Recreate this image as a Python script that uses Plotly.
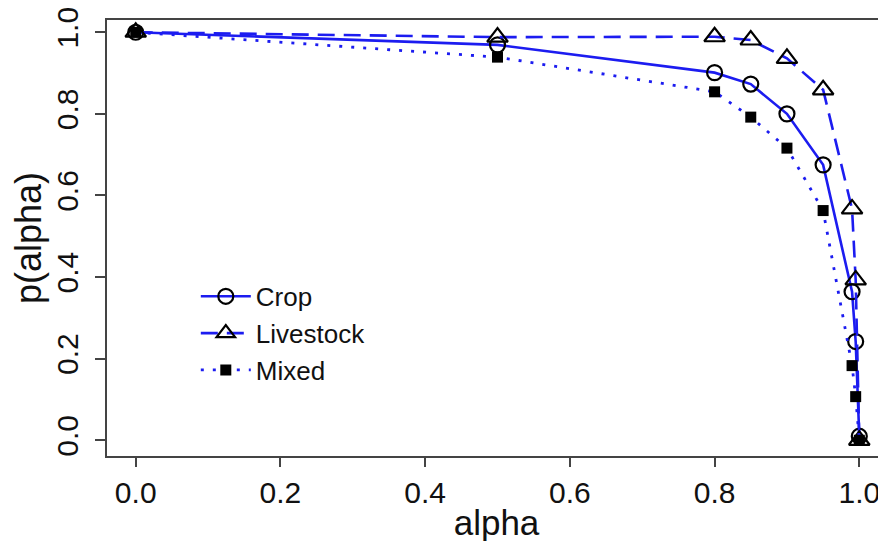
import plotly.graph_objects as go

alpha = [0.0, 0.5, 0.8, 0.85, 0.9, 0.95, 0.99, 0.995, 1.0]
crop = [1.0, 0.969, 0.901, 0.873, 0.800, 0.675, 0.364, 0.242, 0.01]
livestock = [1.0, 0.988, 0.989, 0.981, 0.936, 0.859, 0.567, 0.393, 0.0]
mixed = [1.0, 0.939, 0.854, 0.792, 0.716, 0.563, 0.183, 0.107, 0.0]
tick_vals = [0.0, 0.2, 0.4, 0.6, 0.8, 1.0]
tick_text = ["0.0", "0.2", "0.4", "0.6", "0.8", "1.0"]

BLUE = "#1c1cf0"
FONT = "Liberation Sans, Arial, sans-serif"

fig = go.Figure()
fig.add_trace(go.Scatter(x=alpha, y=crop, name="Crop", mode="lines+markers",
                         line=dict(color=BLUE, width=2.6, dash="solid"),
                         marker=dict(symbol="circle-open", size=15, color="black",
                                     line=dict(width=2.2, color="black"))))
fig.add_trace(go.Scatter(x=alpha, y=livestock, name="Livestock", mode="lines+markers",
                         line=dict(color=BLUE, width=2.6, dash="17px,9px"),
                         marker=dict(symbol="triangle-up-open", size=18, color="black",
                                     line=dict(width=2.2, color="black"))))
fig.add_trace(go.Scatter(x=alpha, y=mixed, name="Mixed", mode="lines+markers",
                         line=dict(color=BLUE, width=2.8, dash="3px,9px"),
                         marker=dict(symbol="square", size=11, color="black",
                                     line=dict(width=0))))

axis_common = dict(showgrid=False, zeroline=False, showline=True, linecolor="#444",
                   linewidth=1.5, ticks="outside", tickwidth=1.5, automargin=False,
                   tickcolor="#444", tickvals=tick_vals, ticktext=tick_text,
                   ticklabeloverflow="allow",
                   tickfont=dict(size=30, color="#111", family=FONT))

fig.update_layout(
    width=886, height=541,
    margin=dict(l=99, r=8, t=12, b=93),
    plot_bgcolor="white", paper_bgcolor="white",
    font=dict(family=FONT, color="#111"),
    xaxis=dict(range=[-0.0397, 1.0369], mirror=True, ticklen=9,
               title=dict(text="alpha", font=dict(size=35, family=FONT, color="#111"), standoff=3),
               **axis_common),
    yaxis=dict(range=[-0.0385, 1.030], mirror=False, tickangle=-90, ticklabelstandoff=5,
               ticklen=10,
               title=dict(text="p(alpha)", font=dict(size=36, family=FONT, color="#111"), standoff=0),
               **axis_common),
    legend=dict(x=0.114, y=0.42, xanchor="left", yanchor="top",
                bgcolor="rgba(0,0,0,0)", font=dict(size=26, family=FONT, color="#111"),
                itemwidth=50, tracegroupgap=0),
    showlegend=True,
)

fig.write_html("out.html")
